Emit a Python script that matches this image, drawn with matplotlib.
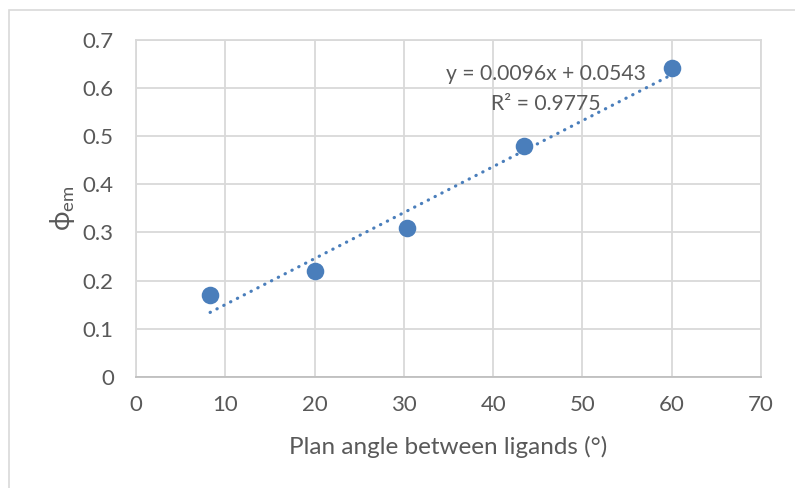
import matplotlib
matplotlib.use("Agg")
import matplotlib.pyplot as plt
from matplotlib.patches import Rectangle
import numpy as np

# data
angle = [8.3, 20.0, 30.4, 43.4, 60.0]
phi_em = [0.17, 0.22, 0.31, 0.48, 0.64]
eq_text = "y = 0.0096x + 0.0543"
r2_text = "R² = 0.9775"
x_ticks = [0, 10, 20, 30, 40, 50, 60, 70]
y_ticks = [0, 0.1, 0.2, 0.3, 0.4, 0.5, 0.6, 0.7]
y_tick_labels = ["0", "0.1", "0.2", "0.3", "0.4", "0.5", "0.6", "0.7"]

plt.rcParams['font.family'] = ['Lato', 'DejaVu Sans']
plt.rcParams['mathtext.fontset'] = 'custom'
plt.rcParams['mathtext.rm'] = 'Lato'

text_col = "#595959"
grid_col = "#d9d9d9"
blue = "#4a7ebb"

fig = plt.figure(figsize=(7.95, 4.88), dpi=100)
fig.patch.set_facecolor("white")
fig.patches.append(Rectangle((9 / 795, -0.1), 2, 1 - 10 / 488 + 0.1, transform=fig.transFigure,
                             fill=False, edgecolor="#d9d9d9", linewidth=1.2))

ax = fig.add_axes([136 / 795, 1 - 377 / 488, 625 / 795, 337.5 / 488])

# linear trendline
coef = np.polyfit(angle, phi_em, 1)
xs = np.array([min(angle), max(angle)])
ax.plot(xs, np.polyval(coef, xs), linestyle=(0, (0.1, 2.3)), color=blue, linewidth=2.3,
        dash_capstyle="round", zorder=3)

ax.scatter(angle, phi_em, s=160, color=blue, zorder=4, linewidths=0)

ax.text(45.9, 0.628, eq_text, ha="center", va="center", fontsize=15.2, color=text_col, zorder=5)
ax.text(45.9, 0.567, r2_text, ha="center", va="center", fontsize=15.2, color=text_col, zorder=5)

ax.set_xlim(0, 70)
ax.set_ylim(0, 0.7)
ax.set_xticks(x_ticks)
ax.set_yticks(y_ticks)
ax.set_yticklabels(y_tick_labels)
ax.grid(True, color=grid_col, linewidth=1.3)
ax.set_axisbelow(True)
for s in ax.spines.values():
    s.set_color(grid_col)
    s.set_linewidth(1.3)
ax.spines["bottom"].set_color("#bfbfbf")
ax.tick_params(length=0, labelsize=16, colors=text_col, pad=13)
ax.tick_params(axis="y", pad=16)

ax.set_xlabel("Plan angle between ligands (°)", fontsize=17.5, color=text_col)
ax.xaxis.set_label_coords(0.5, -0.207)
ax.xaxis.label.set_va("center")
ax.set_ylabel(r"ϕ$_{\mathregular{em}}$", fontsize=19, color=text_col)
ax.yaxis.set_label_coords(-0.118, 0.5)
ax.yaxis.label.set_va("center")

fig.savefig("out.png", dpi=100)
